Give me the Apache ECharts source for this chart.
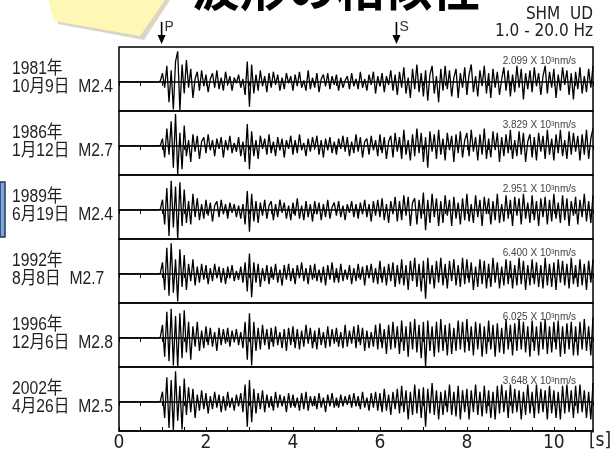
<!DOCTYPE html>
<html>
<head>
<meta charset="utf-8">
<script src="https://cdn.jsdelivr.net/npm/echarts@6/dist/echarts.min.js"></script>
<style>
  html, body { margin: 0; padding: 0; background: #fff; }
  #chart { width: 611px; height: 459px; }
</style>
</head>
<body>
<div id="chart"></div>
<script>
// sample step of the traces, seconds
const DT = 0.05;

const eventYears = ['1981年', '1986年', '1989年', '1992年', '1996年', '2002年'];
const eventDates = ['10月9日', '1月12日', '6月19日', '8月8日', '12月6日', '4月26日'];
const eventMags  = ['M2.4', 'M2.7', 'M2.4', 'M2.7', 'M2.8', 'M2.5'];
const ampLabels  = ['2.099 X 10³nm/s', '3.829 X 10³nm/s', '2.951 X 10³nm/s',
                    '6.400 X 10³nm/s', '6.025 X 10³nm/s', '3.648 X 10³nm/s'];
const xTickLabels = ['0', '2', '4', '6', '8', '10'];
const phaseNames = ['P', 'S'];
const phaseTimes = [0.98, 6.38];

// normalized velocity, one value every DT seconds from 0 to 10.9 s
const trace1981 = [
  0,0,1,0,0,-1,0,0,1,0,0,0,-1,0,1,0,0,-1,0,3,
  30,-20,55,-70,40,-95,70,105,-98,60,
  -40,75,-20,45,-55,10,35,-30,40,-15,
  25,-35,10,30,-20,40,-25,15,-30,35,
  -10,20,-30,15,-5,25,-20,10,-45,70,
  -85,60,-40,25,-30,40,-15,20,-35,30,
  -20,35,-10,25,-30,15,-25,30,-5,20,
  -30,25,-15,35,-20,5,-30,40,-25,15,
  -20,30,-35,10,25,-15,30,-25,20,-10,
  25,-30,15,-20,5,20,-25,30,-15,10,
  -25,35,-20,10,-30,25,-10,35,-40,20,
  -15,30,-35,20,-10,40,-30,25,-45,35,
  -20,50,-40,15,-55,45,-25,60,-35,30,
  -50,40,-65,25,55,-40,20,-70,45,-30,
  55,-25,40,-50,15,45,-55,30,-20,50,
  -45,25,60,-35,20,-50,40,-15,55,-40,
  30,-55,45,-20,35,-45,10,50,-30,40,
  -50,25,-35,55,-20,45,-60,30,-25,40,
  -35,50,-15,30,-45,20,55,-40,35,-20,
  45,-55,25,-30,50,-10,40,-45,30,-60,
  35,-25,50,-40,20,-35,45,-20,55
];
const trace1986 = [
  0,1,0,0,-1,0,0,1,0,-1,0,0,1,0,0,-1,0,1,0,2,
  25,-40,60,-30,85,-75,110,-98,45,-80,
  70,-35,20,-55,40,-20,35,-45,15,30,
  -25,40,-15,20,-35,25,-10,30,-40,20,
  -15,35,-25,10,-20,30,-35,15,-55,75,
  -80,50,-35,20,-45,35,-10,25,-30,40,
  -25,15,-35,30,-15,25,-40,20,-10,35,
  -30,20,-25,40,-15,10,-35,25,-20,30,
  -10,35,-30,20,-40,25,-15,30,-25,15,
  -30,25,-10,35,-20,30,-35,15,-25,40,
  -20,30,-40,15,25,-30,35,-15,20,-35,
  40,-25,30,-45,15,35,-40,45,-20,30,
  -45,55,-30,20,-50,40,-35,60,-25,45,
  -55,30,-75,50,-20,40,-45,55,-30,25,
  -50,45,-15,35,-55,40,-25,50,-40,20,
  45,-35,55,-20,30,-50,40,-30,60,-45,
  25,-40,50,-15,45,-55,30,-35,40,-25,
  55,-45,20,-35,50,-30,45,-55,15,40,
  -40,30,-50,45,-20,35,-45,55,-30,25,
  -50,40,-25,55,-35,20,-45,50,-30,45,
  -20,35,-50,40,-30,55,-45,25,60
];
const trace1989 = [
  0,0,-1,0,1,0,0,0,-1,0,1,0,0,-1,0,0,1,0,0,2,
  35,-50,75,-90,100,-60,80,-100,95,-55,
  70,-45,30,-50,55,-25,40,-35,20,-30,
  35,-20,25,-40,15,30,-25,35,-15,20,
  -30,25,-10,20,-25,15,-30,20,-50,65,
  -75,55,-40,30,-45,25,-20,35,-30,15,
  30,-35,20,-25,35,-10,25,-30,15,-35,
  25,-20,40,-30,15,-35,30,-25,20,-40,
  30,-15,25,-35,20,-25,35,-30,10,25,
  -20,30,-25,15,-35,20,-10,30,-25,20,
  -30,25,-15,35,-25,20,-40,30,-20,35,
  -25,40,-35,20,-45,30,-15,45,-40,30,
  -35,50,-20,45,-55,25,40,-50,35,-30,
  60,-70,35,-45,55,-25,40,-55,30,-45,
  50,-20,35,-55,45,-30,25,-50,40,-35,
  55,-40,20,-45,50,-25,35,-55,45,-15,
  40,-50,30,-35,55,-45,20,-40,50,-30,
  35,-55,45,-20,40,-50,55,-30,25,-45,
  50,-35,30,-55,40,-25,45,-50,35,-40,
  55,-30,25,-45,50,-35,40,-55,30,-20,
  45,-50,35,-25,55,-40,30,-45,50
];
const trace1992 = [
  0,0,1,0,0,-1,0,1,0,0,0,-1,0,0,1,0,-1,0,0,2,
  40,-55,90,-75,105,-65,50,-95,85,-45,
  65,-55,35,-25,50,-40,25,-30,35,-20,
  30,-35,20,-25,35,-15,25,-30,20,-35,
  25,-15,30,-25,10,-20,25,-30,40,-60,
  70,-80,40,-30,35,-45,20,-25,30,-35,
  25,-20,35,-30,15,-40,30,-20,35,-25,
  20,-35,30,-15,40,-25,20,-35,30,-20,
  35,-25,15,-30,25,-40,30,-20,40,-30,
  20,-30,35,-25,15,-20,30,-35,20,-25,
  35,-20,25,-40,30,-15,35,-30,20,-35,
  45,-30,25,-40,35,-25,40,-45,30,-35,
  50,-40,30,-55,45,-25,55,-45,35,-60,
  45,-85,55,-35,30,-50,45,-30,55,-40,
  35,-50,45,-25,50,-40,30,-45,55,-35,
  50,-30,40,-55,25,-45,50,-35,45,-50,
  35,-45,55,-30,40,-50,25,-40,50,-35,
  45,-50,30,-40,55,-35,45,-55,30,-40,
  50,-35,40,-45,30,-50,55,-40,35,-45,
  40,-55,50,-30,45,-40,35,-50,55,-35,
  30,-45,50,-40,35,-55,45,-30,50
];
const trace1996 = [
  0,0,0,1,0,-1,0,0,1,0,-1,0,0,0,1,0,0,-1,0,2,
  45,-65,90,-80,100,-95,75,-100,85,-70,
  95,-50,55,-75,40,-30,55,-45,25,-35,
  40,-25,35,-30,20,-45,35,-25,30,-20,
  35,-30,25,-15,30,-25,20,-35,55,-75,
  85,-95,55,-45,35,-40,45,-25,30,-40,
  35,-30,40,-25,20,-35,30,-45,35,-25,
  40,-35,30,-40,25,-30,45,-20,35,-35,
  25,-40,35,-25,20,-35,40,-30,30,-20,
  35,-30,20,-35,45,-30,25,-20,40,-35,
  45,-25,35,-45,25,-35,20,-30,45,-40,
  50,-35,30,-55,45,-40,55,-35,40,-55,
  60,-45,40,-65,55,-40,65,-50,45,-70,
  55,-98,60,-45,40,-65,55,-50,65,-45,
  45,-60,50,-55,35,-45,60,-40,55,-50,
  65,-45,40,-60,55,-40,50,-65,40,-55,
  60,-40,45,-65,50,-50,35,-55,65,-40,
  45,-60,50,-45,65,-40,55,-50,40,-65,
  60,-45,40,-60,55,-40,65,-55,40,-50,
  55,-40,60,-65,40,-55,50,-40,55,-60,
  40,-60,55,-40,65,-45,40,-60,70
];
const trace2002 = [
  0,0,1,0,-1,0,0,1,0,0,-1,0,1,0,0,0,-1,0,1,2,
  35,-55,85,-90,75,-100,105,-65,55,-95,
  80,-45,50,-35,45,-55,25,-30,40,-25,
  30,-40,20,-25,35,-20,25,-35,20,-30,
  35,-20,15,-30,25,-15,30,-35,60,-85,
  75,-70,45,-40,30,-25,40,-35,25,-20,
  20,-30,35,-20,25,-15,20,-35,30,-20,
  25,-20,15,-30,30,-25,35,-30,20,-15,
  20,-25,30,-20,15,-35,25,-15,30,-20,
  15,-20,25,-15,20,-10,25,-20,30,-15,
  20,-25,35,-20,15,-30,30,-20,35,-30,
  30,-35,45,-30,25,-45,35,-25,45,-40,
  55,-35,40,-60,35,-45,60,-40,45,-55,
  50,-85,45,-40,65,-45,40,-60,35,-45,
  40,-35,60,-45,35,-50,55,-60,40,-35,
  45,-60,40,-35,60,-45,35,-50,55,-40,
  40,-55,35,-60,55,-40,60,-35,40,-55,
  60,-40,45,-35,40,-60,35,-45,60,-40,
  35,-55,60,-40,45,-35,40,-60,55,-40,
  40,-55,35,-60,55,-40,60,-35,40,-55,
  55,-40,60,-35,40,-55,35,-60,65
];
const traces = [trace1981, trace1986, trace1989, trace1992, trace1996, trace2002];

const PANEL_TOP = 47;
const PANEL_H   = 64;
const labelFont  = "'Liberation Sans', 'Noto Sans CJK JP', sans-serif";
const narrowFont = "'DejaVu Sans Condensed', 'Noto Sans CJK JP', sans-serif";

const chart = echarts.init(document.getElementById('chart'), null, { renderer: 'canvas' });

const grids = [], xAxes = [], yAxes = [], series = [];
traces.forEach((tr, i) => {
    grids.push({
        left: 119, right: 18, top: PANEL_TOP + PANEL_H * i, height: PANEL_H,
        show: true, borderColor: '#000', borderWidth: 1.5, backgroundColor: 'transparent'
    });
    xAxes.push({
        gridIndex: i, type: 'value', position: 'top', min: 0, max: 10.9, interval: 0.5,
        axisLine : { show: true, lineStyle: { color: '#000', width: 1.5 } },
        axisTick : { show: true, inside: true, length: 4, lineStyle: { color: '#000', width: 1 } },
        axisLabel: { show: false },
        splitLine: { show: false }
    });
    yAxes.push({ gridIndex: i, type: 'value', min: -100, max: 120, show: false });
    series.push({
        type: 'line', xAxisIndex: i, yAxisIndex: i, showSymbol: false, silent: true,
        lineStyle: { color: '#000', width: 1.3 },
        data: tr.map((v, k) => [k * DT, v])
    });
});
// bottom axis of the last panel carries the time labels
xAxes.push({
    gridIndex: 5, type: 'value', position: 'bottom', min: 0, max: 10.9, interval: 0.5,
    axisLine : { show: true, lineStyle: { color: '#000', width: 1.5 } },
    axisTick : { show: true, inside: true, length: 4, lineStyle: { color: '#000', width: 1 } },
    axisLabel: {
        show: true, margin: 3, color: '#222', fontSize: 19, fontFamily: narrowFont,
        showMaxLabel: false,
        formatter: v => xTickLabels.includes(String(v)) ? String(v) : ''
    },
    splitLine: { show: false }
});

chart.setOption({
    animation: false,
    grid: grids,
    xAxis: xAxes,
    yAxis: yAxes,
    series: series
});

// narrow text drawn by squeezing a regular face
function squeezed(text, x, y, size, sx, opts) {
    return Object.assign({
        type: 'text', z: 3, x: x, y: y, scaleX: sx,
        style: { text: text, x: 0, y: 0, textVerticalAlign: 'middle',
                 font: size + 'px ' + labelFont, fill: '#222' }
    }, opts || {});
}

const graphics = [];
// sticky note corner
graphics.push({ type: 'polygon', shape: { points: [[52, 0], [170, 0], [144, 40], [58, 24]] },
    style: { fill: '#d9d6c6' }, z: 1 });
graphics.push({ type: 'polygon', shape: { points: [[48, 0], [165, 0], [140, 36], [54, 21]] },
    style: { fill: '#fff7b5' }, z: 2 });
// blue marker at the left edge
graphics.push({ type: 'rect', shape: { x: 0, y: 182, width: 5, height: 55 },
    style: { fill: '#7fa6d6', stroke: '#1d3a6b', lineWidth: 1.5 }, z: 2 });
// title, clipped by the top edge
graphics.push({ type: 'text', z: 3, style: {
    text: '波形の相似性', x: 336, y: 12, textAlign: 'center', textVerticalAlign: 'bottom',
    font: "bold 48px 'Noto Sans CJK JP'", fill: '#000' } });
graphics.push({ type: 'text', z: 3, style: {
    text: 'SHM  UD', x: 593, y: 15, textAlign: 'right', textVerticalAlign: 'middle',
    font: "17px " + narrowFont, fill: '#222' } });
graphics.push({ type: 'text', z: 3, style: {
    text: '1.0 - 20.0 Hz', x: 593, y: 32, textAlign: 'right', textVerticalAlign: 'middle',
    font: "17px " + narrowFont, fill: '#222' } });
graphics.push({ type: 'text', z: 3, style: {
    text: '[s]', x: 600, y: 441, textAlign: 'center', textVerticalAlign: 'middle',
    font: "19px " + narrowFont, fill: '#222' } });

eventYears.forEach((yr, i) => {
    const top = PANEL_TOP + PANEL_H * i;
    graphics.push(squeezed(yr, 12, top + 22, 18, 0.87));
    graphics.push(squeezed(eventDates[i] + '  ' + eventMags[i], 12, top + 40, 18, 0.87));
    graphics.push({ type: 'text', z: 3, style: {
        text: ampLabels[i], x: 576, y: top + 14, textAlign: 'right', textVerticalAlign: 'middle',
        font: "10px 'Liberation Sans', sans-serif", fill: '#444' } });
});

// phase arrows placed through the time axis
phaseNames.forEach((name, i) => {
    const x = chart.convertToPixel({ xAxisIndex: 0 }, phaseTimes[i]);
    graphics.push({ type: 'line', z: 3, shape: { x1: x, y1: 22, x2: x, y2: 38 },
        style: { stroke: '#000', lineWidth: 1.6 } });
    graphics.push({ type: 'polygon', z: 3, shape: { points: [[x - 4, 35], [x + 4, 35], [x, 44]] },
        style: { fill: '#000' } });
    graphics.push({ type: 'text', z: 3, style: {
        text: name, x: x + 3, y: 27, textVerticalAlign: 'middle',
        font: "14px 'Liberation Sans', sans-serif", fill: '#333' } });
});

chart.setOption({ graphic: graphics });
</script>
</body>
</html>
